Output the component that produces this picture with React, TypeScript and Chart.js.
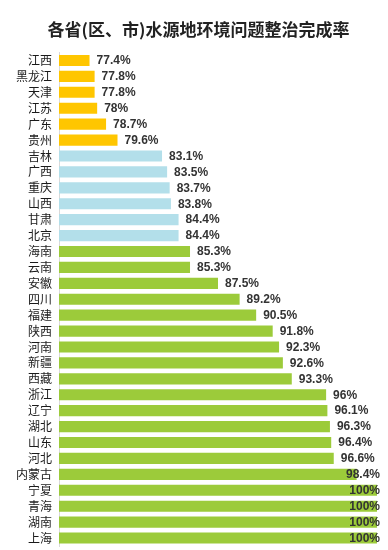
import React, { useEffect, useRef } from "react";
import { Chart, registerables } from "chart.js";

Chart.register(...registerables);

const TITLE = "各省(区、市)水源地环境问题整治完成率";

const provinces = [
  "江西", "黑龙江", "天津", "江苏", "广东", "贵州",
  "吉林", "广西", "重庆", "山西", "甘肃", "北京",
  "海南", "云南", "安徽", "四川", "福建", "陕西", "河南", "新疆", "西藏",
  "浙江", "辽宁", "湖北", "山东", "河北", "内蒙古", "宁夏", "青海", "湖南", "上海",
];

const rates = [
  77.4, 77.8, 77.8, 78, 78.7, 79.6,
  83.1, 83.5, 83.7, 83.8, 84.4, 84.4,
  85.3, 85.3, 87.5, 89.2, 90.5, 91.8, 92.3, 92.6, 93.3,
  96, 96.1, 96.3, 96.4, 96.6, 98.4, 100, 100, 100, 100,
];

// group per bar: 0 = below 80, 1 = 80-85, 2 = 85+
const groups = [
  0, 0, 0, 0, 0, 0,
  1, 1, 1, 1, 1, 1,
  2, 2, 2, 2, 2, 2, 2, 2, 2, 2, 2, 2, 2, 2, 2, 2, 2, 2, 2,
];

const groupColors = ["#FFC600", "#B3DFEA", "#9CCB3A"];

const AXIS_MIN = 75;
const AXIS_MAX = 100;

export default function App() {
  const ref = useRef<HTMLCanvasElement | null>(null);

  useEffect(() => {
    document.body.style.margin = "0";
    const canvas = ref.current;
    if (!canvas) return;

    const titlePlugin = {
      id: "customTitle",
      afterDraw(chart: any) {
        const ctx = chart.ctx;
        ctx.save();
        ctx.font = "bold 17px 'Noto Sans CJK SC'";
        ctx.fillStyle = "#222";
        ctx.textAlign = "center";
        ctx.textBaseline = "middle";
        ctx.fillText(TITLE, 198.5, 30);
        ctx.restore();
      },
    };

    const valueLabels = {
      id: "valueLabels",
      afterDatasetsDraw(chart: any) {
        const ctx = chart.ctx;
        const meta = chart.getDatasetMeta(0);
        ctx.save();
        ctx.font = "bold 12px 'Liberation Sans'";
        ctx.fillStyle = "#333";
        ctx.textBaseline = "middle";
        ctx.textAlign = "left";
        meta.data.forEach((bar: any, i: number) => {
          const text = rates[i] + "%";
          const w = ctx.measureText(text).width;
          let x = bar.x + 7;
          const maxRight = 380;
          if (x + w > maxRight) x = maxRight - w;
          ctx.fillText(text, x, bar.y + 0.5);
        });
        ctx.restore();
      },
    };

    const chart = new Chart(canvas, {
      type: "bar",
      data: {
        labels: provinces,
        datasets: [
          {
            data: rates,
            backgroundColor: groups.map((g) => groupColors[g]),
            borderWidth: 0,
            barPercentage: 0.7,
            categoryPercentage: 1,
          },
        ],
      },
      options: {
        indexAxis: "y",
        responsive: false,
        animation: false,
        layout: { padding: { top: 52.5, right: 11, bottom: 4, left: 0 } },
        plugins: {
          legend: { display: false },
          tooltip: { enabled: false },
          title: { display: false },
        },
        scales: {
          x: {
            display: false,
            min: AXIS_MIN,
            max: AXIS_MAX,
          },
          y: {
            afterFit(scale: any) {
              scale.width = 59;
              scale.paddingTop = 0;
              scale.paddingBottom = 0;
            },
            grid: { display: false, drawTicks: false },
            border: { display: true, color: "#D9D9D9", width: 1 },
            ticks: {
              color: "#1a1a1a",
              padding: 7,
              font: { size: 12, family: "'Noto Sans CJK SC'" },
              autoSkip: false,
            },
          },
        },
      },
      plugins: [titlePlugin, valueLabels],
    });

    return () => chart.destroy();
  }, []);

  return (
    <div style={{ width: 388, height: 550 }}>
      <canvas ref={ref} width={388} height={550} />
    </div>
  );
}
